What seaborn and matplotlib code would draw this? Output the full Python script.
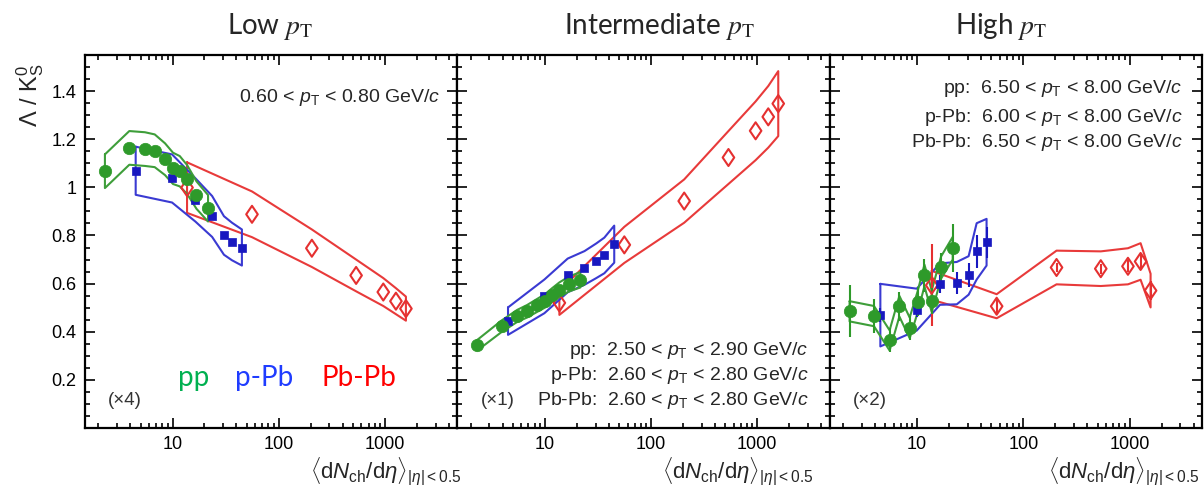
import matplotlib
matplotlib.use("Agg")
import matplotlib.pyplot as plt
from matplotlib.path import Path
from matplotlib.ticker import FuncFormatter, LogLocator, MultipleLocator, NullFormatter
import numpy as np
import pandas as pd
import seaborn as sns

# ---------------------------------------------------------------------------
# Data
# ---------------------------------------------------------------------------
PP_X = [2.31, 3.92, 5.5, 6.8, 8.5, 10.1, 11.7, 13.7, 16.8, 21.6]
PPB_X = [4.5, 9.9, 16.4, 23.6, 30.5, 36.3, 45.0]
PBPB_X = [13.7, 56.0, 205.0, 535.0, 964.0, 1268.0, 1575.0]

# Low pT
PP_LOW = [1.067, 1.164, 1.159, 1.152, 1.117, 1.079, 1.067, 1.033, 0.968, 0.913]
PP_LOW_SYS = [0.07, 0.07, 0.07, 0.068, 0.066, 0.065, 0.063, 0.06, 0.057, 0.055]
PPB_LOW = [1.069, 1.037, 0.948, 0.879, 0.800, 0.775, 0.750]
PPB_LOW_SYS = [0.10, 0.10, 0.09, 0.085, 0.08, 0.078, 0.075]
PBPB_LOW = [0.999, 0.888, 0.747, 0.634, 0.565, 0.527, 0.496]
PBPB_LOW_SYS = [0.105, 0.095, 0.078, 0.066, 0.058, 0.054, 0.05]

# Intermediate pT
PP_MID = [0.344, 0.423, 0.466, 0.485, 0.510, 0.529, 0.552, 0.575, 0.598, 0.616]
PP_MID_SYS = [0.022, 0.024, 0.025, 0.026, 0.027, 0.028, 0.029, 0.030, 0.031, 0.032]
PPB_MID = [0.444, 0.547, 0.634, 0.665, 0.695, 0.717, 0.764]
PPB_MID_SYS = [0.057, 0.07, 0.07, 0.07, 0.072, 0.074, 0.077]
PBPB_MID = [0.520, 0.761, 0.943, 1.124, 1.235, 1.293, 1.348]
PBPB_MID_SYS = [0.05, 0.075, 0.09, 0.11, 0.122, 0.128, 0.135]

# High pT
PP_HIGH = [0.485, 0.465, 0.364, 0.506, 0.416, 0.524, 0.634, 0.527, 0.667, 0.747]
PP_HIGH_STAT = [0.108, 0.069, 0.05, 0.06, 0.05, 0.06, 0.07, 0.055, 0.06, 0.10]
PP_HIGH_SYS = [0.042, 0.042, 0.042, 0.043, 0.043, 0.044, 0.045, 0.045, 0.046, 0.047]
PPB_HIGH = [0.469, 0.492, 0.598, 0.602, 0.634, 0.734, 0.772]
PPB_HIGH_STAT = [0.03, 0.03, 0.038, 0.045, 0.05, 0.07, 0.065]
PPB_HIGH_SYS = [0.13, 0.087, 0.086, 0.088, 0.08, 0.117, 0.097]
PBPB_HIGH = [0.593, 0.506, 0.667, 0.662, 0.672, 0.692, 0.571]
PBPB_HIGH_STAT = [0.17, 0.03, 0.02, 0.02, 0.025, 0.035, 0.04]
PBPB_HIGH_SYS = [0.06, 0.05, 0.07, 0.072, 0.075, 0.076, 0.07]

TITLES = ["Low", "Intermediate", "High"]
SCALES = ["(\u00d74)", "(\u00d71)", "(\u00d72)"]
SYSTEMS = ["pp", "p-Pb", "Pb-Pb"]

# ---------------------------------------------------------------------------
# Styling
# ---------------------------------------------------------------------------
GREEN, BLUE, RED = "#2e9a2a", "#1818c0", "#e53030"
BAND = {"pp": "#3e9e3a", "p-Pb": "#3a3ad2", "Pb-Pb": "#e83a3a"}
LEG_COLORS = ["#00b050", "#1f3cff", "#ff0000"]

# open diamond, a bit narrower than tall
DIAMOND = Path([(0, 1), (0.68, 0), (0, -1), (-0.68, 0), (0, 1)],
               [Path.MOVETO, Path.LINETO, Path.LINETO, Path.LINETO, Path.CLOSEPOLY])

sns.set_style("ticks")
plt.rcParams["font.family"] = ["Liberation Sans", "DejaVu Sans"]
plt.rcParams["mathtext.fontset"] = "custom"
plt.rcParams["mathtext.rm"] = "Liberation Sans"
plt.rcParams["mathtext.it"] = "Liberation Sans:italic"
plt.rcParams["mathtext.bf"] = "Liberation Sans:bold"

fig, axes = plt.subplots(1, 3, figsize=(12.04, 5.0), dpi=100, sharey=True)
fig.subplots_adjust(left=85 / 1204, right=1202 / 1204, top=1 - 55 / 500,
                    bottom=1 - 428 / 500, wspace=0)


def band(ax, x, y, sys, color):
    x = np.asarray(x)
    y = np.asarray(y)
    s = np.asarray(sys)
    xs = np.concatenate([x, x[::-1], x[:1]])
    ys = np.concatenate([y + s, (y - s)[::-1], (y + s)[:1]])
    ax.plot(xs, ys, color=color, lw=1.5, zorder=2)


panels = [
    (PP_LOW, PP_LOW_SYS, None, PPB_LOW, PPB_LOW_SYS, None, PBPB_LOW, PBPB_LOW_SYS, None),
    (PP_MID, PP_MID_SYS, None, PPB_MID, PPB_MID_SYS, None, PBPB_MID, PBPB_MID_SYS, None),
    (PP_HIGH, PP_HIGH_SYS, PP_HIGH_STAT, PPB_HIGH, PPB_HIGH_SYS, PPB_HIGH_STAT,
     PBPB_HIGH, PBPB_HIGH_SYS, PBPB_HIGH_STAT),
]

for i, (ax, p) in enumerate(zip(axes, panels)):
    pp, pp_sys, pp_stat, ppb, ppb_sys, ppb_stat, pbpb, pbpb_sys, pbpb_stat = p

    band(ax, PBPB_X, pbpb, pbpb_sys, BAND["Pb-Pb"])
    band(ax, PPB_X, ppb, ppb_sys, BAND["p-Pb"])
    band(ax, PP_X, pp, pp_sys, BAND["pp"])

    if pp_stat is not None:
        ax.errorbar(PBPB_X, pbpb, yerr=pbpb_stat, fmt="none", ecolor=RED, elinewidth=1.5, zorder=3)
        ax.errorbar(PPB_X, ppb, yerr=ppb_stat, fmt="none", ecolor=BLUE, elinewidth=1.5, zorder=3)
        ax.errorbar(PP_X, pp, yerr=pp_stat, fmt="none", ecolor=GREEN, elinewidth=1.5, zorder=3)

    sns.scatterplot(x=PBPB_X, y=pbpb, marker=DIAMOND, s=150, facecolors="none",
                    edgecolor=RED, linewidth=1.5, ax=ax, zorder=4)
    sns.scatterplot(x=PPB_X, y=ppb, marker="s", s=40, color=BLUE,
                    edgecolor=BLUE, linewidth=0.5, ax=ax, zorder=5)
    sns.scatterplot(x=PP_X, y=pp, marker="o", s=80, color=GREEN,
                    edgecolor=GREEN, linewidth=0.5, ax=ax, zorder=6)

    ax.set_xscale("log")
    ax.set_xlim(1.5, 4800)
    ax.set_ylim(0.0, 1.55)
    ax.xaxis.set_major_locator(LogLocator(base=10, numticks=10))
    ax.xaxis.set_minor_locator(LogLocator(base=10, subs=np.arange(2, 10), numticks=20))
    ax.xaxis.set_major_formatter(FuncFormatter(lambda v, _: f"{v:g}"))
    ax.xaxis.set_minor_formatter(NullFormatter())
    ax.yaxis.set_major_locator(MultipleLocator(0.2))
    ax.yaxis.set_minor_locator(MultipleLocator(0.05))
    ax.yaxis.set_major_formatter(FuncFormatter(lambda v, _: "" if v < 0.1 else f"{v:g}"))
    ax.tick_params(which="both", direction="in", top=True, right=True,
                   labelsize=13, colors="black", width=1.2)
    ax.tick_params(which="major", length=7, pad=6)
    ax.tick_params(which="minor", length=3.5)
    for sp in ax.spines.values():
        sp.set_linewidth(1.6)
        sp.set_color("black")
    ax.set_xlabel("")
    ax.set_ylabel("")

    ax.text(0.062, 0.075, SCALES[i], transform=ax.transAxes, fontsize=13.5,
            color="#333333", ha="left", va="center")

# pT range annotations
axes[0].text(0.954, 0.885, r"0.60 < $p_{\mathrm{T}}$ < 0.80 GeV/$c$",
             transform=axes[0].transAxes, ha="right", va="center", fontsize=14)
mid_lines = [r"pp:  2.50 < $p_{\mathrm{T}}$ < 2.90 GeV/$c$",
             r"p-Pb:  2.60 < $p_{\mathrm{T}}$ < 2.80 GeV/$c$",
             r"Pb-Pb:  2.60 < $p_{\mathrm{T}}$ < 2.80 GeV/$c$"]
for txt, yy in zip(mid_lines, [0.209, 0.142, 0.075]):
    axes[1].text(0.944, yy, txt, transform=axes[1].transAxes, ha="right",
                 va="center", fontsize=14)
high_lines = [r"pp:  6.50 < $p_{\mathrm{T}}$ < 8.00 GeV/$c$",
              r"p-Pb:  6.00 < $p_{\mathrm{T}}$ < 8.00 GeV/$c$",
              r"Pb-Pb:  6.50 < $p_{\mathrm{T}}$ < 8.00 GeV/$c$"]
for txt, yy in zip(high_lines, [0.909, 0.832, 0.765]):
    axes[2].text(0.948, yy, txt, transform=axes[2].transAxes, ha="right",
                 va="center", fontsize=14)

# system labels
for name, col, xp in zip(SYSTEMS, LEG_COLORS, [178, 235, 322]):
    fig.text(xp / 1204, 1 - 378 / 500, name, color=col, fontsize=20,
             family=["Lato", "DejaVu Sans"], ha="left", va="center")

# panel titles
for name, xc in zip(TITLES, [270, 659, 1001]):
    fig.text(xc / 1204, 1 - 27 / 500, name + r" $p_{\mathrm{T}}$", fontsize=20,
             family=["Lato", "DejaVu Sans"], math_fontfamily="stix",
             ha="center", va="center")

# axis labels
xlab = r"$\langle\mathrm{d}N_{\mathrm{ch}}/\mathrm{d}\eta\rangle_{|\eta|<0.5}$"
for xr in [462, 814, 1200]:
    fig.text(xr / 1204, 1 - 472 / 500, xlab, fontsize=16, ha="right", va="center")
fig.text(30 / 1204, 1 - 95 / 500, r"$\Lambda$ / K$^{0}_{\mathrm{S}}$", fontsize=17,
         rotation=90, ha="center", va="center")

fig.savefig("out.png", dpi=100)
